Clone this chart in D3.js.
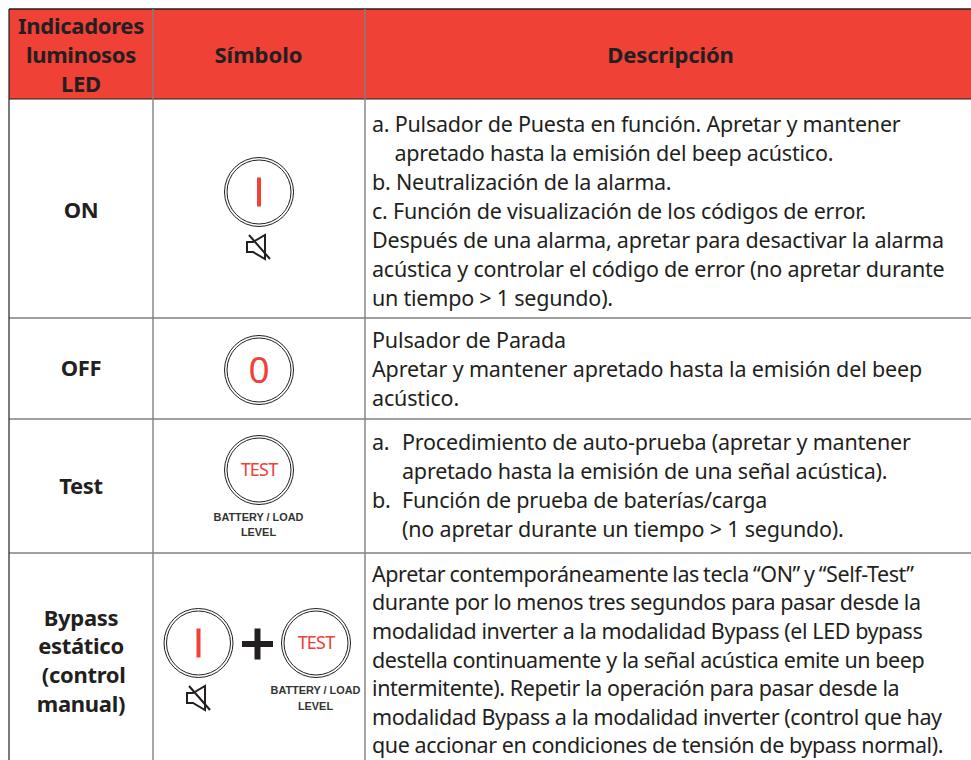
<!DOCTYPE html>
<html><head><meta charset="utf-8">
<style>html,body{margin:0;padding:0;background:#fff}svg{display:block}text{font-family:"Noto Sans",sans-serif;fill:#231f20}</style>
<script src="https://cdn.jsdelivr.net/npm/d3@7"></script></head>
<body><svg id="c" width="971" height="760"></svg>
<script>
const headers = [["Indicadores","luminosos","LED"],["Símbolo"],["Descripción"]];
const rowLabels = [["ON"],["OFF"],["Test"],["Bypass","estático"," (control","manual)"]];
const descriptions = [
 ["a. Pulsador de Puesta en función. Apretar y mantener","\tapretado hasta la emisión del beep acústico.","b. Neutralización de la alarma.","c. Función de visualización de los códigos de error.","Después de una alarma, apretar para desactivar la alarma","acústica y controlar el código de error (no apretar durante","un tiempo > 1 segundo)."],
 ["Pulsador de Parada","Apretar y mantener apretado hasta la emisión del beep","acústico."],
 ["a.\tProcedimiento de auto-prueba (apretar y mantener","\tapretado hasta la emisión de una señal acústica).","b.\tFunción de prueba de baterías/carga","\t(no apretar durante un tiempo > 1 segundo)."],
 ["Apretar contemporáneamente las tecla “ON” y “Self-Test”","durante por lo menos tres segundos para pasar desde la","modalidad inverter a la modalidad Bypass (el LED bypass","destella continuamente y la señal acústica emite un beep","intermitente). Repetir la operación para pasar desde la","modalidad Bypass a la modalidad inverter (control que hay","que accionar en condiciones de tensión de bypass normal)."]
];
const batteryLines = ["BATTERY / LOAD","LEVEL"];

const RED="#ef4136", INK="#231f20", GREY="#808080";
const svg=d3.select("#c");
const xEdge=d3.scaleOrdinal().domain([0,1,2,3]).range([9,153,365,975]);
const yEdge=d3.scaleOrdinal().domain([0,1,2,3,4,5]).range([9,99,318,419,553,770]);
const LH=28.9, FS=21.5;

svg.append("rect").attr("x",xEdge(0)).attr("y",yEdge(0)).attr("width",xEdge(3)-xEdge(0)).attr("height",yEdge(1)-yEdge(0)).attr("fill",RED);

[1,2,3,4].forEach(i=>svg.append("line").attr("x1",9).attr("x2",971).attr("y1",yEdge(i)).attr("y2",yEdge(i)).attr("stroke",i==1?INK:GREY).attr("stroke-width",i==1?1.2:1.4));
svg.append("line").attr("x1",9).attr("x2",971).attr("y1",9).attr("y2",9).attr("stroke",INK).attr("stroke-width",1.3);
[[0,INK],[1,GREY],[2,GREY]].forEach(([i,c])=>svg.append("line").attr("x1",xEdge(i)).attr("x2",xEdge(i)).attr("y1",9).attr("y2",760).attr("stroke",c).attr("stroke-width",i?1.4:1.2));

function block(lines,x,cy,o){
  const lh=o.lh||LH, y0=cy-(lines.length-1)*lh/2;
  svg.append("g").selectAll("text").data(lines).join("text")
   .attr("x",x).attr("y",(d,i)=>y0+i*lh).attr("dy","0.36em")
   .attr("text-anchor",o.anchor||"middle").attr("font-size",o.size||FS)
   .attr("font-weight",o.weight||400).style("font-family",o.family||null)
   .style("letter-spacing",o.ls||null).style("fill",o.fill||null)
   .style("white-space","pre").text(d=>d);
}
const bold={weight:700,size:22,ls:"-0.3px"};
block(headers[0],81,55,bold);
block(headers[1],258.5,55.5,{...bold,ls:"0px"});
block(headers[2],670.5,55.5,{...bold,ls:"-0.15px"});

const labelY=[210.5,368.5,486.5,661];
rowLabels.forEach((r,i)=>block(r,81,labelY[i],bold));

const descTop=[124,340,442,574];
const descLS=[-0.22,-0.15,-0.2,-0.42];
const hang=[394.5,372,402,372];
descriptions.forEach((d,i)=>{
  const t=svg.append("g").selectAll("text").data(d).join("text")
   .attr("y",(s,k)=>descTop[i]+k*(i==3?28.6:29)).attr("dy","0.36em")
   .attr("font-size",FS).style("letter-spacing",descLS[i]+"px")
   .style("word-spacing",(s,k)=>(i==3&&k==0)?"-1px":null);
  t.each(function(s){
    const el=d3.select(this), parts=s.split("\t");
    if(parts.length===1){ el.attr("x",372).text(s); return; }
    if(parts[0]) el.append("tspan").attr("x",372).text(parts[0]);
    el.append("tspan").attr("x",hang[i]).text(parts[1]);
  });
});

function button(cx,cy,glyph){
  const g=svg.append("g");
  [34.5,32].forEach(r=>g.append("circle").attr("cx",cx).attr("cy",cy).attr("r",r).attr("fill","none").attr("stroke",INK).attr("stroke-width",1));
  if(glyph==="I") g.append("rect").attr("x",cx-2).attr("y",cy-14.5).attr("width",4).attr("height",29).attr("fill",RED);
  else g.append("text").attr("x",cx).attr("y",cy).attr("dy","0.36em").attr("text-anchor","middle")
     .attr("font-size",glyph==="0"?37:18).style("fill",RED).style("letter-spacing",glyph==="0"?null:"-0.8px").text(glyph);
}
function mute(cx,cy){
  const g=svg.append("g").attr("transform",`translate(${cx},${cy})`).attr("fill","none").attr("stroke",INK).attr("stroke-width",2);
  g.append("path").attr("d",d3.line()([[-11,-5],[-5,-5],[7,-12],[7,12],[-5,5],[-11,5]])+"Z");
  g.append("line").attr("x1",-9).attr("y1",-12).attr("x2",12).attr("y2",12);
}
function battery(cx,cy){
  block(batteryLines,cx,cy,{lh:15.5,size:10.9,weight:700,family:"'Liberation Sans'",fill:"#333"});
}
button(259,192,"I"); mute(258,247);
button(259,370,"0");
button(259,470,"TEST"); battery(258.5,524.5);
button(198.5,643,"I"); mute(198,698);
svg.append("rect").attr("x",242).attr("y",641).attr("width",31).attr("height",6).attr("fill",INK);
svg.append("rect").attr("x",254.5).attr("y",628.5).attr("width",6).attr("height",31).attr("fill",INK);
button(316,643,"TEST"); battery(315.5,698);
</script></body></html>
